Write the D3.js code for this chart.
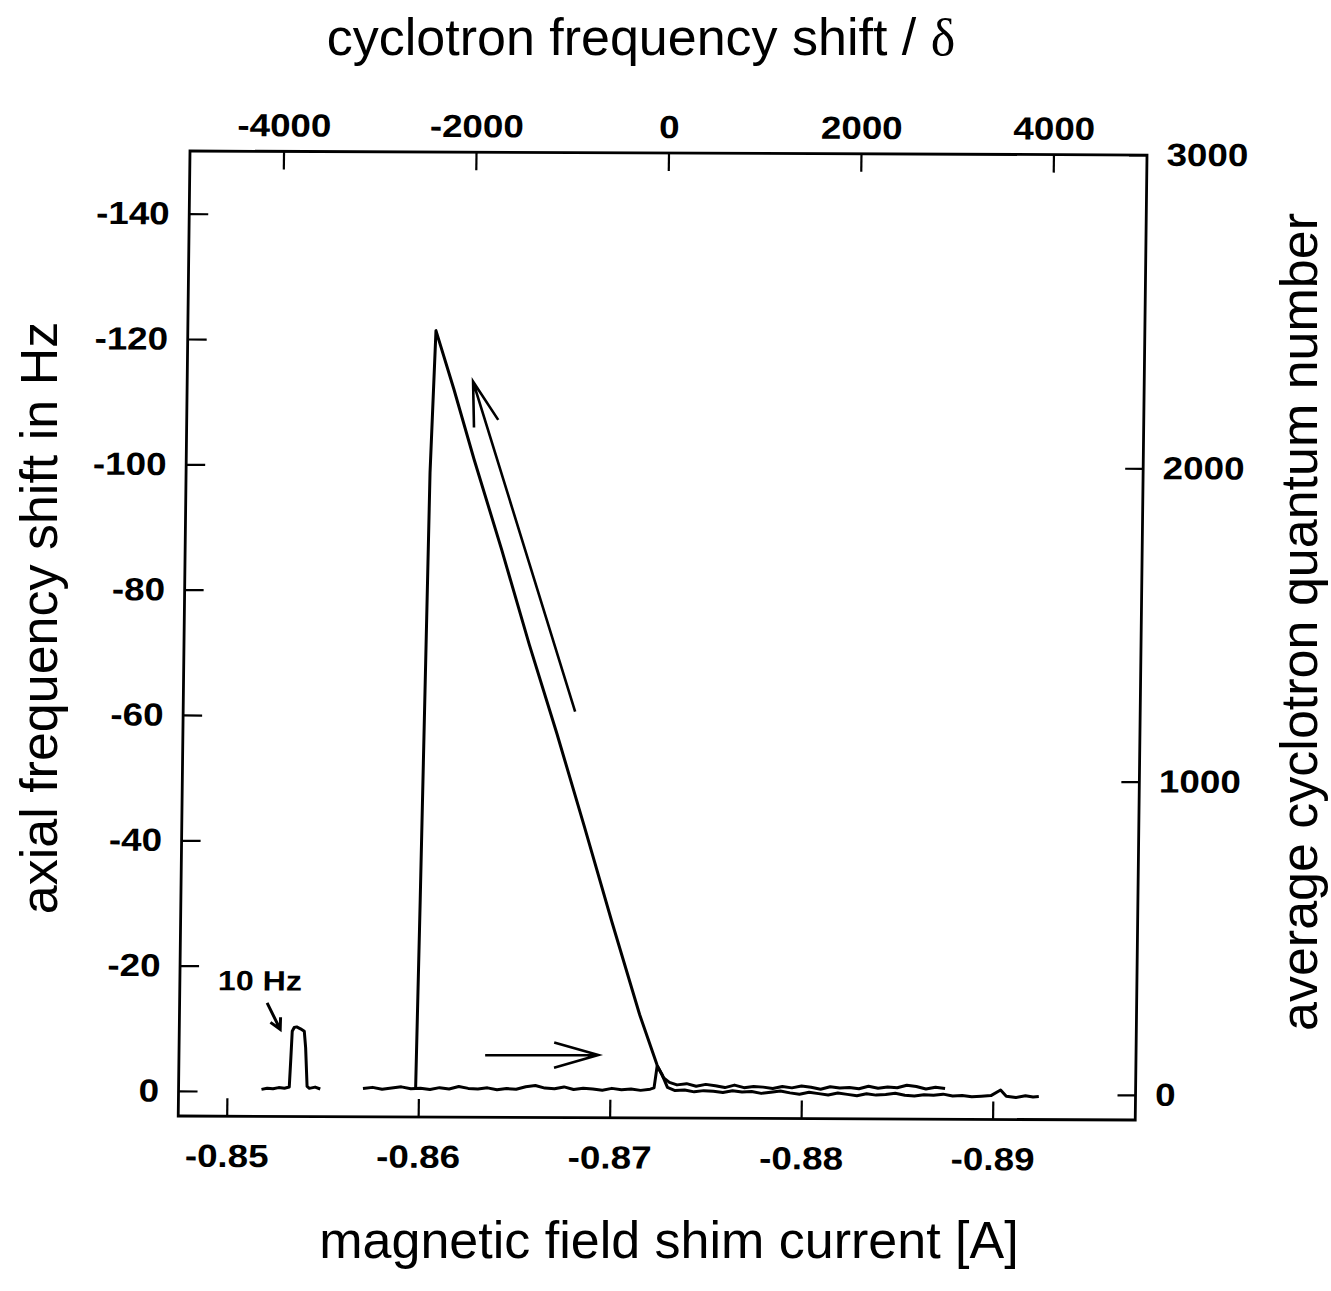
<!DOCTYPE html>
<html>
<head>
<meta charset="utf-8">
<script src="https://cdn.jsdelivr.net/npm/d3@7"></script>
<style>
  body { margin: 0; background: #fff; }
</style>
</head>
<body>
<svg id="chart" width="1331" height="1291"></svg>
<script>
// tick values of the four axes
const currentTicks = [-0.85, -0.86, -0.87, -0.88, -0.89]
const hzTicks = [0, -20, -40, -60, -80, -100, -120, -140]
const deltaTicks = [-4000, -2000, 0, 2000, 4000]
const quantumTicks = [0, 1000, 2000, 3000]

// calibration step of 10 Hz  [shim current A, axial shift Hz]
const calibration = [
  [-0.8518, -0.3], [-0.8521, -0.5], [-0.8524, -0.4], [-0.8527, -0.6], [-0.8530, -0.5],
  [-0.85325, -0.7], [-0.85331, -5.0], [-0.85337, -9.6], [-0.85347, -10.2], [-0.8536, -10.3],
  [-0.8538, -10.0], [-0.8540, -9.6], [-0.85408, -7.0], [-0.85418, -0.8], [-0.8543, -0.5],
  [-0.8546, -0.7], [-0.85487, -0.4]
]

// sweep towards more negative current (lower trace)
const upSweep = [
  [-0.8571, -0.5], [-0.8576, -0.7], [-0.8581, -0.4], [-0.8586, -0.6], [-0.8591, -0.8],
  [-0.8596, -0.5], [-0.8601, -0.6], [-0.8606, -0.4], [-0.8611, -0.7], [-0.8616, -0.5],
  [-0.8621, -0.9], [-0.8626, -0.6], [-0.8631, -0.5], [-0.8636, -0.7], [-0.8641, -0.4],
  [-0.8646, -0.6], [-0.8651, -0.5], [-0.8656, -0.9], [-0.8661, -1.1], [-0.8666, -0.7],
  [-0.8671, -0.6], [-0.8676, -0.9], [-0.8681, -0.5], [-0.8686, -0.7], [-0.8691, -0.6],
  [-0.8696, -0.4], [-0.8701, -0.7], [-0.8706, -0.5], [-0.8711, -0.6], [-0.8716, -0.4],
  [-0.8721, -0.6], [-0.8723, -0.8], [-0.87245, -4.3], [-0.8727, -3.0], [-0.8730, -0.9],
  [-0.8734, -0.4], [-0.8739, -0.5], [-0.8744, -0.2], [-0.8749, -0.4], [-0.8754, -0.3],
  [-0.8759, -0.1], [-0.8764, -0.4], [-0.8769, -0.2], [-0.8774, -0.3], [-0.8779, 0.0],
  [-0.8784, -0.2], [-0.8789, -0.4], [-0.8794, -0.1], [-0.8799, 0.1], [-0.8804, -0.2],
  [-0.8809, 0.0], [-0.8814, 0.2], [-0.8819, -0.1], [-0.8824, 0.1], [-0.8829, 0.3],
  [-0.8834, 0.0], [-0.8839, 0.2], [-0.8844, 0.1], [-0.8849, -0.1], [-0.8854, 0.2],
  [-0.8859, 0.3], [-0.8864, 0.1], [-0.8869, 0.2], [-0.8874, 0.0], [-0.8879, 0.3],
  [-0.8884, 0.2], [-0.8889, 0.4], [-0.8894, 0.3], [-0.8899, 0.2], [-0.8904, -0.7],
  [-0.8907, 0.3], [-0.8912, 0.5], [-0.8917, 0.2], [-0.8921, 0.4], [-0.8924, 0.3]
]

// sweep back (upper trace, then the ramp up to the peak and the drop)
const downSweep = [
  [-0.8875, -0.9], [-0.8870, -1.1], [-0.8865, -0.8], [-0.8860, -1.2], [-0.8855, -1.4],
  [-0.8850, -1.0], [-0.8845, -1.1], [-0.8840, -0.9], [-0.8835, -1.2], [-0.8830, -0.8],
  [-0.8825, -1.0], [-0.8820, -0.9], [-0.8815, -1.1], [-0.8810, -0.7], [-0.8805, -1.0],
  [-0.8800, -1.2], [-0.8795, -0.9], [-0.8790, -1.1], [-0.8785, -0.8], [-0.8780, -1.0],
  [-0.8775, -1.1], [-0.8770, -0.9], [-0.8765, -1.3], [-0.8760, -0.9], [-0.8755, -1.2],
  [-0.8750, -1.4], [-0.8745, -1.1], [-0.8740, -1.5], [-0.8735, -1.3], [-0.8731, -1.7],
  [-0.8728, -2.4], [-0.87245, -4.4], [-0.8715, -12.5], [-0.8700, -27.2], [-0.8685, -42.4],
  [-0.8670, -57.3], [-0.8655, -71.5], [-0.8640, -86.6], [-0.8625, -101.0], [-0.8614, -112.2],
  [-0.86043, -121.5], [-0.86021, -98.8], [-0.85997, -30.7], [-0.85985, -0.6]
]

// annotation arrows [tail, tip] in data units
const arrowForward = [[-0.86346, -5.9], [-0.86937, -6.0]]
const arrowBack = [[-0.86794, -60.8], [-0.86240, -113.4]]
const arrowCal = [[-0.85204, -14.1], [-0.85274, -9.9]]

const W = 957, H = 965
const svg = d3.select('#chart')
svg.append('rect').attr('width', 1331).attr('height', 1291).attr('fill', '#fff')

// the scanned frame is slightly sheared
const plot = svg.append('g').attr('transform', 'matrix(1,0.0042,-0.0122,1,190,151)')

const x = d3.scaleLinear().domain([-0.84747, -0.89745]).range([0, W])
const y = d3.scaleLinear().domain([4, -150]).range([H, 0])
const xTop = d3.scaleLinear().domain([-4972, 4972]).range([0, W])
const yRight = d3.scaleLinear().domain([-80, 3000]).range([H, 0])

const tickFont = "'Liberation Sans', Arial, sans-serif"

const styleAxis = (g) => {
  g.select('.domain').remove()
  g.attr('font-size', 32).attr('font-family', tickFont).attr('font-weight', 'bold')
  g.selectAll('line').attr('stroke', '#000').attr('stroke-width', 2.2)
  g.selectAll('text').attr('fill', '#000').attr('transform', 'scale(1.15,1)')
}

plot.append('g').attr('transform', `translate(0,${H})`)
  .call(d3.axisBottom(x).tickValues(currentTicks).tickSize(-18).tickSizeOuter(0)
    .tickPadding(28).tickFormat((d) => d.toFixed(2)))
  .call(styleAxis)

plot.append('g')
  .call(d3.axisLeft(y).tickValues(hzTicks).tickSize(-19).tickSizeOuter(0)
    .tickPadding(17).tickFormat((d) => String(d)))
  .call(styleAxis)

plot.append('g')
  .call(d3.axisTop(xTop).tickValues(deltaTicks).tickSize(-18).tickSizeOuter(0)
    .tickPadding(15).tickFormat((d) => String(d)))
  .call(styleAxis)

plot.append('g').attr('transform', `translate(${W},0)`)
  .call(d3.axisRight(yRight).tickValues(quantumTicks).tickSize(-18).tickSizeOuter(0)
    .tickPadding(17).tickFormat((d) => String(d)))
  .call(styleAxis)

plot.append('rect')
  .attr('width', W).attr('height', H)
  .attr('fill', 'none').attr('stroke', '#000').attr('stroke-width', 2.8)

const line = d3.line().x((d) => x(d[0])).y((d) => y(d[1]))

plot.selectAll('path.trace')
  .data([calibration, upSweep, downSweep])
  .enter()
  .append('path')
  .attr('class', 'trace')
  .attr('d', line)
  .attr('fill', 'none')
  .attr('stroke', '#000')
  .attr('stroke-width', 3)
  .attr('stroke-linejoin', 'round')

// open arrow: shaft plus two barbs
const drawArrow = (pts, len, angle, width) => {
  const [x0, y0] = [x(pts[0][0]), y(pts[0][1])]
  const [x1, y1] = [x(pts[1][0]), y(pts[1][1])]
  const a = Math.atan2(y0 - y1, x0 - x1)
  const r = (angle * Math.PI) / 180
  const barb = (s) => [x1 + len * Math.cos(a + s * r), y1 + len * Math.sin(a + s * r)]
  const [b1, b2] = [barb(1), barb(-1)]
  plot.append('path')
    .attr('d', `M${x0},${y0}L${x1},${y1}M${b1[0]},${b1[1]}L${x1},${y1}L${b2[0]},${b2[1]}`)
    .attr('fill', 'none')
    .attr('stroke', '#000')
    .attr('stroke-width', width)
    .attr('stroke-linejoin', 'miter')
}
drawArrow(arrowForward, 46, 16, 2.6)
drawArrow(arrowBack, 46, 16, 2.6)
drawArrow(arrowCal, 12, 28, 3)

plot.append('text')
  .attr('transform', `translate(${x(-0.84946)},${y(-16.1)}) scale(1.15,1)`)
  .attr('font-family', tickFont).attr('font-weight', 'bold').attr('font-size', 28)
  .text('10 Hz')

// axis titles
const titleFont = "'Liberation Sans', Arial, sans-serif"
const topTitle = svg.append('text')
  .attr('x', 641).attr('y', 55)
  .attr('text-anchor', 'middle').attr('font-family', titleFont).attr('font-size', 52)
  .text('cyclotron frequency shift / ')
topTitle.append('tspan').attr('font-family', "'Liberation Serif', 'DejaVu Serif', serif").text('δ')

svg.append('text')
  .attr('x', 669).attr('y', 1258)
  .attr('text-anchor', 'middle').attr('font-family', titleFont).attr('font-size', 52)
  .text('magnetic field shim current [A]')

svg.append('text')
  .attr('transform', 'translate(57,618) rotate(-90)')
  .attr('text-anchor', 'middle').attr('font-family', titleFont).attr('font-size', 52)
  .text('axial frequency shift in Hz')

svg.append('text')
  .attr('transform', 'translate(1317,622) rotate(-90)')
  .attr('text-anchor', 'middle').attr('font-family', titleFont).attr('font-size', 52)
  .text('average cyclotron quantum number')
</script>
</body>
</html>
